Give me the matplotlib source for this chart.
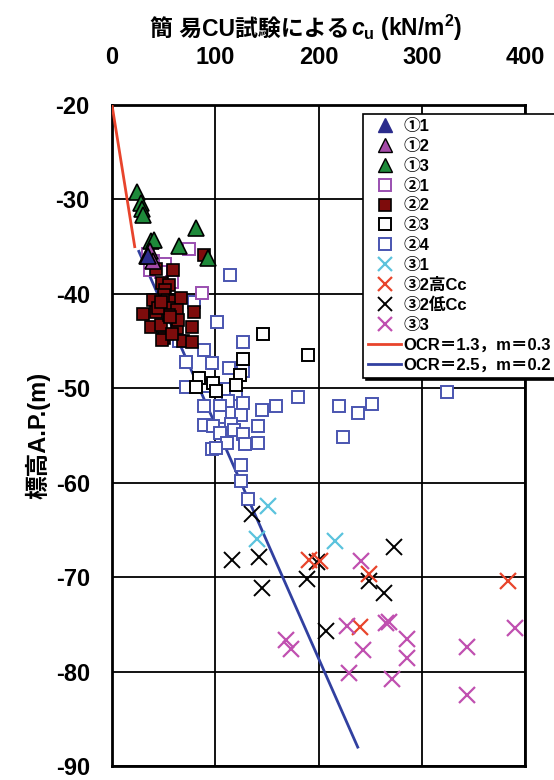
import matplotlib
matplotlib.use("Agg")
import matplotlib.pyplot as plt
from matplotlib.lines import Line2D

plt.rcParams['font.family'] = ['Liberation Sans', 'Noto Sans CJK JP']
plt.rcParams['font.weight'] = 'bold'
plt.rcParams['axes.unicode_minus'] = False
plt.rcParams['mathtext.fontset'] = 'custom'
plt.rcParams['mathtext.rm'] = 'Liberation Sans:bold'
plt.rcParams['mathtext.it'] = 'Liberation Sans:italic:bold'
plt.rcParams['mathtext.bf'] = 'Liberation Sans:bold'

# ------------------------- data (cu in kN/m2, elevation A.P. m) -------------------------
cu_11 = [35]
z_11 = [-36.0]

cu_12 = [37, 40]
z_12 = [-35.5, -36.5]

cu_13 = [24, 28, 29, 30, 38, 41, 34, 65, 81, 93]
z_13 = [-29.2, -30.4, -31.0, -31.7, -34.4, -34.3, -36.0, -34.9, -33.0, -36.2]

cu_21 = [75, 51, 37, 47, 58, 87, 40, 35]
z_21 = [-35.2, -36.8, -37.5, -37.7, -38.7, -39.9, -36.5, -35.8]

cu_22 = [89, 43, 59, 48, 55, 51, 50, 40, 53, 61, 67, 30, 43, 55, 63, 79, 38, 47, 55, 63,
         64, 77, 50, 48, 69, 77, 56, 45, 58, 47]
z_22 = [-35.9, -37.4, -37.5, -38.9, -39.1, -39.6, -40.1, -40.6, -40.6, -40.8, -40.4, -42.1,
        -41.9, -41.5, -41.7, -41.9, -43.5, -43.3, -42.2, -43.6, -42.8, -43.5, -44.7, -44.9,
        -45.0, -45.1, -42.4, -41.5, -44.2, -40.9]

cu_23 = [146, 127, 190, 124, 84, 98, 81, 120, 101]
z_23 = [-44.3, -46.9, -46.5, -48.6, -48.9, -49.4, -49.9, -49.6, -50.3]

cu_24 = [114, 79, 102, 127, 65, 89, 72, 97, 113, 127, 72, 90, 108, 120, 180, 127, 112, 89,
         105, 145, 159, 220, 238, 252, 224, 324, 125, 105, 89, 98, 115, 118, 105, 127, 141,
         141, 129, 111, 97, 101, 125, 125, 132]
z_24 = [-38.0, -40.9, -43.0, -45.1, -45.0, -45.9, -47.2, -47.3, -47.9, -48.2, -49.9, -49.8,
        -50.1, -50.6, -50.9, -51.6, -51.3, -51.9, -51.9, -52.3, -51.9, -51.9, -52.6, -51.7,
        -55.2, -50.4, -52.8, -53.0, -53.9, -54.0, -53.8, -54.4, -54.7, -54.8, -54.0, -55.8,
        -55.9, -55.8, -56.4, -56.3, -58.1, -59.8, -61.7]

cu_31 = [151, 140, 216]
z_31 = [-62.5, -66.0, -66.2]

cu_32h = [191, 201, 249, 384, 240]
z_32h = [-68.2, -68.3, -69.7, -70.4, -75.3]

cu_32l = [136, 116, 142, 145, 189, 199, 273, 249, 263, 207]
z_32l = [-63.3, -68.2, -67.9, -71.2, -70.2, -68.4, -66.8, -70.4, -71.7, -75.7]

cu_33 = [241, 228, 268, 265, 286, 169, 173, 243, 286, 230, 271, 344, 390, 344]
z_33 = [-68.3, -75.2, -74.7, -74.9, -76.5, -76.7, -77.6, -77.7, -78.6, -80.1, -80.8,
        -77.4, -75.4, -82.5]

# design lines
cu_ocr13 = [0, 22]
z_ocr13 = [-20, -35]
cu_ocr25 = [26, 238]
z_ocr25 = [-35.5, -88]

# ------------------------------ plot ------------------------------
fig = plt.figure(figsize=(5.54, 7.8), dpi=100)
ax = fig.add_axes([112 / 554, 14 / 780, 413 / 554, 661 / 780])

ax.plot(cu_ocr13, z_ocr13, color='#e8442c', lw=2, zorder=3)
ax.plot(cu_ocr25, z_ocr25, color='#3140a0', lw=2, zorder=3)

ax.plot(cu_24, z_24, 's', ms=8, mfc='white', mec='#4a55b0', mew=1.4, zorder=4)
ax.plot(cu_23, z_23, 's', ms=8, mfc='white', mec='black', mew=1.4, zorder=4)
ax.plot(cu_21, z_21, 's', ms=8, mfc='white', mec='#9a4fb0', mew=1.4, zorder=4)
ax.plot(cu_22, z_22, 's', ms=8.5, mfc='#7e0c0c', mec='black', mew=1.2, zorder=5)
ax.plot(cu_13, z_13, '^', ms=11, mfc='#1e8a3a', mec='black', mew=1.2, zorder=6)
ax.plot(cu_12, z_12, '^', ms=11, mfc='#a54aa8', mec='black', mew=1.2, zorder=6)
ax.plot(cu_11, z_11, '^', ms=11, mfc='#2b2c8c', mec='black', mew=1.2, zorder=6)
ax.plot(cu_31, z_31, 'x', ms=11, mec='#5bc3dd', mew=1.6, zorder=5)
ax.plot(cu_32l, z_32l, 'x', ms=11, mec='black', mew=1.4, zorder=5)
ax.plot(cu_32h, z_32h, 'x', ms=11, mec='#e8452c', mew=1.6, zorder=5)
ax.plot(cu_33, z_33, 'x', ms=11, mec='#c050b0', mew=1.6, zorder=5)

ax.set_xlim(0, 400)
ax.set_ylim(-90, -20)
ax.set_xticks([0, 100, 200, 300, 400])
ax.set_yticks([-20, -30, -40, -50, -60, -70, -80, -90])
ax.xaxis.tick_top()
ax.tick_params(length=0, labelsize=17)
ax.tick_params(axis='x', pad=26)
ax.tick_params(axis='y', pad=16)
ax.grid(True, color='black', lw=1.3)
ax.set_axisbelow(True)
for s in ax.spines.values():
    s.set_linewidth(2)

ax.set_ylabel('標高A.P.(m)', fontsize=17, fontweight='bold', labelpad=4)

# legend
handles = [
    Line2D([], [], ls='none', marker='^', ms=10, mfc='#2b2c8c', mec='#2b2c8c'),
    Line2D([], [], ls='none', marker='^', ms=10, mfc='#a54aa8', mec='black'),
    Line2D([], [], ls='none', marker='^', ms=10, mfc='#1e8a3a', mec='black'),
    Line2D([], [], ls='none', marker='s', ms=8, mfc='white', mec='#9a4fb0', mew=1.4),
    Line2D([], [], ls='none', marker='s', ms=8, mfc='#7e0c0c', mec='black', mew=1.2),
    Line2D([], [], ls='none', marker='s', ms=8, mfc='white', mec='black', mew=1.4),
    Line2D([], [], ls='none', marker='s', ms=8, mfc='white', mec='#4a55b0', mew=1.4),
    Line2D([], [], ls='none', marker='x', ms=10, mec='#5bc3dd', mew=1.6),
    Line2D([], [], ls='none', marker='x', ms=10, mec='#e8452c', mew=1.6),
    Line2D([], [], ls='none', marker='x', ms=10, mec='black', mew=1.4),
    Line2D([], [], ls='none', marker='x', ms=10, mec='#c050b0', mew=1.6),
    Line2D([], [], color='#e8442c', lw=2),
    Line2D([], [], color='#3140a0', lw=2),
]
labels = ['①1', '①2', '①3', '②1', '②2', '②3', '②4', '③1', '③2高Cc', '③2低Cc', '③3',
          'OCR＝1.3，m＝0.3', 'OCR＝2.5，m＝0.2']
leg = ax.legend(handles, labels, loc='upper left', bbox_to_anchor=(363 / 554, 1 - 114 / 780),
                bbox_transform=fig.transFigure, fontsize=12, frameon=True, fancybox=False,
                shadow={'color': 'black', 'alpha': 1}, edgecolor='black', framealpha=1,
                borderpad=0.3, labelspacing=0.29, handlelength=2.0, handletextpad=0.15,
                borderaxespad=0)
leg.get_frame().set_linewidth(1.2)
leg.set_zorder(10)

# title made of two pieces (Japanese + cu with sub/superscript)
t1 = fig.text(0, 1 - 36 / 780, '簡 易CU試験による', fontsize=16.5, fontweight='bold', va='baseline')
t2 = fig.text(0, 1 - 36 / 780, r'$\mathit{c}_{\mathrm{u}}$ (kN/m$^2$)', fontsize=16.5,
              fontweight='bold', va='baseline')
r = fig.canvas.get_renderer()
w1 = t1.get_window_extent(r).width
w2 = t2.get_window_extent(r).width
x0 = 305 - (w1 + w2) / 2
t1.set_x(x0 / 554)
t2.set_x((x0 + w1 + 2) / 554)

fig.savefig('out.png', dpi=100)
